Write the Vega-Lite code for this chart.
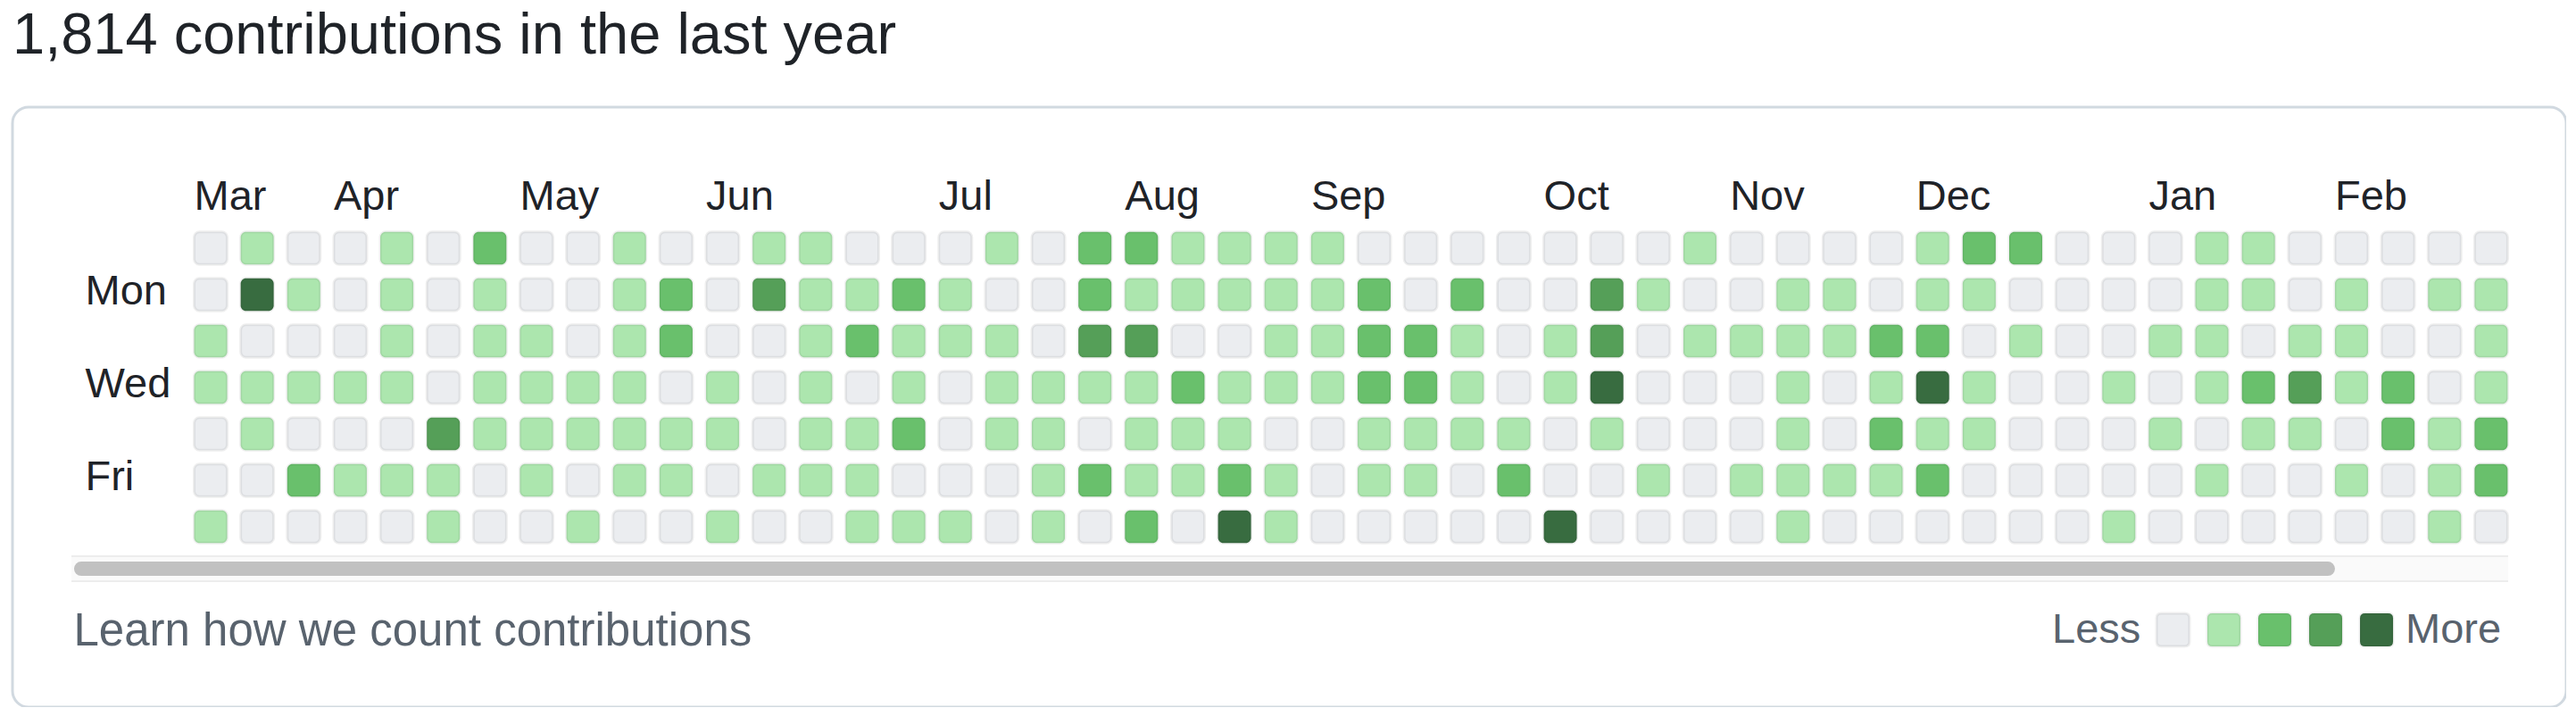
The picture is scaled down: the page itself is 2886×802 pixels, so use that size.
{
  "$schema": "https://vega.github.io/schema/vega-lite/v6.json",
  "width": 2861,
  "height": 672,
  "autosize": {"type": "none"},
  "padding": {"left": 14, "top": 120, "right": 0, "bottom": 0},
  "background": "white",
  "title": {
    "text": "1,814 contributions in the last year",
    "anchor": "start",
    "frame": "group",
    "font": "Liberation Sans",
    "fontSize": 65,
    "fontWeight": "normal",
    "color": "#1f2328",
    "baseline": "alphabetic",
    "offset": 57,
    "dy": 62
  },
  "config": {
    "font": "Liberation Sans",
    "view": {"stroke": "#d1d9e0", "strokeWidth": 3, "cornerRadius": 18}
  },
  "datasets": {
    "cells": [
      {"week":0,"day":"Sun","level":0},{"week":1,"day":"Sun","level":1},{"week":2,"day":"Sun","level":0},{"week":3,"day":"Sun","level":0},{"week":4,"day":"Sun","level":1},{"week":5,"day":"Sun","level":0},{"week":6,"day":"Sun","level":2},{"week":7,"day":"Sun","level":0},{"week":8,"day":"Sun","level":0},{"week":9,"day":"Sun","level":1},{"week":10,"day":"Sun","level":0},{"week":11,"day":"Sun","level":0},{"week":12,"day":"Sun","level":1},{"week":13,"day":"Sun","level":1},{"week":14,"day":"Sun","level":0},{"week":15,"day":"Sun","level":0},{"week":16,"day":"Sun","level":0},{"week":17,"day":"Sun","level":1},{"week":18,"day":"Sun","level":0},{"week":19,"day":"Sun","level":2},{"week":20,"day":"Sun","level":2},{"week":21,"day":"Sun","level":1},{"week":22,"day":"Sun","level":1},{"week":23,"day":"Sun","level":1},{"week":24,"day":"Sun","level":1},{"week":25,"day":"Sun","level":0},{"week":26,"day":"Sun","level":0},{"week":27,"day":"Sun","level":0},{"week":28,"day":"Sun","level":0},{"week":29,"day":"Sun","level":0},{"week":30,"day":"Sun","level":0},{"week":31,"day":"Sun","level":0},{"week":32,"day":"Sun","level":1},{"week":33,"day":"Sun","level":0},{"week":34,"day":"Sun","level":0},{"week":35,"day":"Sun","level":0},{"week":36,"day":"Sun","level":0},{"week":37,"day":"Sun","level":1},{"week":38,"day":"Sun","level":2},{"week":39,"day":"Sun","level":2},{"week":40,"day":"Sun","level":0},{"week":41,"day":"Sun","level":0},{"week":42,"day":"Sun","level":0},{"week":43,"day":"Sun","level":1},{"week":44,"day":"Sun","level":1},{"week":45,"day":"Sun","level":0},{"week":46,"day":"Sun","level":0},{"week":47,"day":"Sun","level":0},{"week":48,"day":"Sun","level":0},{"week":49,"day":"Sun","level":0},
      {"week":0,"day":"Mon","level":0},{"week":1,"day":"Mon","level":4},{"week":2,"day":"Mon","level":1},{"week":3,"day":"Mon","level":0},{"week":4,"day":"Mon","level":1},{"week":5,"day":"Mon","level":0},{"week":6,"day":"Mon","level":1},{"week":7,"day":"Mon","level":0},{"week":8,"day":"Mon","level":0},{"week":9,"day":"Mon","level":1},{"week":10,"day":"Mon","level":2},{"week":11,"day":"Mon","level":0},{"week":12,"day":"Mon","level":3},{"week":13,"day":"Mon","level":1},{"week":14,"day":"Mon","level":1},{"week":15,"day":"Mon","level":2},{"week":16,"day":"Mon","level":1},{"week":17,"day":"Mon","level":0},{"week":18,"day":"Mon","level":0},{"week":19,"day":"Mon","level":2},{"week":20,"day":"Mon","level":1},{"week":21,"day":"Mon","level":1},{"week":22,"day":"Mon","level":1},{"week":23,"day":"Mon","level":1},{"week":24,"day":"Mon","level":1},{"week":25,"day":"Mon","level":2},{"week":26,"day":"Mon","level":0},{"week":27,"day":"Mon","level":2},{"week":28,"day":"Mon","level":0},{"week":29,"day":"Mon","level":0},{"week":30,"day":"Mon","level":3},{"week":31,"day":"Mon","level":1},{"week":32,"day":"Mon","level":0},{"week":33,"day":"Mon","level":0},{"week":34,"day":"Mon","level":1},{"week":35,"day":"Mon","level":1},{"week":36,"day":"Mon","level":0},{"week":37,"day":"Mon","level":1},{"week":38,"day":"Mon","level":1},{"week":39,"day":"Mon","level":0},{"week":40,"day":"Mon","level":0},{"week":41,"day":"Mon","level":0},{"week":42,"day":"Mon","level":0},{"week":43,"day":"Mon","level":1},{"week":44,"day":"Mon","level":1},{"week":45,"day":"Mon","level":0},{"week":46,"day":"Mon","level":1},{"week":47,"day":"Mon","level":0},{"week":48,"day":"Mon","level":1},{"week":49,"day":"Mon","level":1},
      {"week":0,"day":"Tue","level":1},{"week":1,"day":"Tue","level":0},{"week":2,"day":"Tue","level":0},{"week":3,"day":"Tue","level":0},{"week":4,"day":"Tue","level":1},{"week":5,"day":"Tue","level":0},{"week":6,"day":"Tue","level":1},{"week":7,"day":"Tue","level":1},{"week":8,"day":"Tue","level":0},{"week":9,"day":"Tue","level":1},{"week":10,"day":"Tue","level":2},{"week":11,"day":"Tue","level":0},{"week":12,"day":"Tue","level":0},{"week":13,"day":"Tue","level":1},{"week":14,"day":"Tue","level":2},{"week":15,"day":"Tue","level":1},{"week":16,"day":"Tue","level":1},{"week":17,"day":"Tue","level":1},{"week":18,"day":"Tue","level":0},{"week":19,"day":"Tue","level":3},{"week":20,"day":"Tue","level":3},{"week":21,"day":"Tue","level":0},{"week":22,"day":"Tue","level":0},{"week":23,"day":"Tue","level":1},{"week":24,"day":"Tue","level":1},{"week":25,"day":"Tue","level":2},{"week":26,"day":"Tue","level":2},{"week":27,"day":"Tue","level":1},{"week":28,"day":"Tue","level":0},{"week":29,"day":"Tue","level":1},{"week":30,"day":"Tue","level":3},{"week":31,"day":"Tue","level":0},{"week":32,"day":"Tue","level":1},{"week":33,"day":"Tue","level":1},{"week":34,"day":"Tue","level":1},{"week":35,"day":"Tue","level":1},{"week":36,"day":"Tue","level":2},{"week":37,"day":"Tue","level":2},{"week":38,"day":"Tue","level":0},{"week":39,"day":"Tue","level":1},{"week":40,"day":"Tue","level":0},{"week":41,"day":"Tue","level":0},{"week":42,"day":"Tue","level":1},{"week":43,"day":"Tue","level":1},{"week":44,"day":"Tue","level":0},{"week":45,"day":"Tue","level":1},{"week":46,"day":"Tue","level":1},{"week":47,"day":"Tue","level":0},{"week":48,"day":"Tue","level":0},{"week":49,"day":"Tue","level":1},
      {"week":0,"day":"Wed","level":1},{"week":1,"day":"Wed","level":1},{"week":2,"day":"Wed","level":1},{"week":3,"day":"Wed","level":1},{"week":4,"day":"Wed","level":1},{"week":5,"day":"Wed","level":0},{"week":6,"day":"Wed","level":1},{"week":7,"day":"Wed","level":1},{"week":8,"day":"Wed","level":1},{"week":9,"day":"Wed","level":1},{"week":10,"day":"Wed","level":0},{"week":11,"day":"Wed","level":1},{"week":12,"day":"Wed","level":0},{"week":13,"day":"Wed","level":1},{"week":14,"day":"Wed","level":0},{"week":15,"day":"Wed","level":1},{"week":16,"day":"Wed","level":0},{"week":17,"day":"Wed","level":1},{"week":18,"day":"Wed","level":1},{"week":19,"day":"Wed","level":1},{"week":20,"day":"Wed","level":1},{"week":21,"day":"Wed","level":2},{"week":22,"day":"Wed","level":1},{"week":23,"day":"Wed","level":1},{"week":24,"day":"Wed","level":1},{"week":25,"day":"Wed","level":2},{"week":26,"day":"Wed","level":2},{"week":27,"day":"Wed","level":1},{"week":28,"day":"Wed","level":0},{"week":29,"day":"Wed","level":1},{"week":30,"day":"Wed","level":4},{"week":31,"day":"Wed","level":0},{"week":32,"day":"Wed","level":0},{"week":33,"day":"Wed","level":0},{"week":34,"day":"Wed","level":1},{"week":35,"day":"Wed","level":0},{"week":36,"day":"Wed","level":1},{"week":37,"day":"Wed","level":4},{"week":38,"day":"Wed","level":1},{"week":39,"day":"Wed","level":0},{"week":40,"day":"Wed","level":0},{"week":41,"day":"Wed","level":1},{"week":42,"day":"Wed","level":0},{"week":43,"day":"Wed","level":1},{"week":44,"day":"Wed","level":2},{"week":45,"day":"Wed","level":3},{"week":46,"day":"Wed","level":1},{"week":47,"day":"Wed","level":2},{"week":48,"day":"Wed","level":0},{"week":49,"day":"Wed","level":1},
      {"week":0,"day":"Thu","level":0},{"week":1,"day":"Thu","level":1},{"week":2,"day":"Thu","level":0},{"week":3,"day":"Thu","level":0},{"week":4,"day":"Thu","level":0},{"week":5,"day":"Thu","level":3},{"week":6,"day":"Thu","level":1},{"week":7,"day":"Thu","level":1},{"week":8,"day":"Thu","level":1},{"week":9,"day":"Thu","level":1},{"week":10,"day":"Thu","level":1},{"week":11,"day":"Thu","level":1},{"week":12,"day":"Thu","level":0},{"week":13,"day":"Thu","level":1},{"week":14,"day":"Thu","level":1},{"week":15,"day":"Thu","level":2},{"week":16,"day":"Thu","level":0},{"week":17,"day":"Thu","level":1},{"week":18,"day":"Thu","level":1},{"week":19,"day":"Thu","level":0},{"week":20,"day":"Thu","level":1},{"week":21,"day":"Thu","level":1},{"week":22,"day":"Thu","level":1},{"week":23,"day":"Thu","level":0},{"week":24,"day":"Thu","level":0},{"week":25,"day":"Thu","level":1},{"week":26,"day":"Thu","level":1},{"week":27,"day":"Thu","level":1},{"week":28,"day":"Thu","level":1},{"week":29,"day":"Thu","level":0},{"week":30,"day":"Thu","level":1},{"week":31,"day":"Thu","level":0},{"week":32,"day":"Thu","level":0},{"week":33,"day":"Thu","level":0},{"week":34,"day":"Thu","level":1},{"week":35,"day":"Thu","level":0},{"week":36,"day":"Thu","level":2},{"week":37,"day":"Thu","level":1},{"week":38,"day":"Thu","level":1},{"week":39,"day":"Thu","level":0},{"week":40,"day":"Thu","level":0},{"week":41,"day":"Thu","level":0},{"week":42,"day":"Thu","level":1},{"week":43,"day":"Thu","level":0},{"week":44,"day":"Thu","level":1},{"week":45,"day":"Thu","level":1},{"week":46,"day":"Thu","level":0},{"week":47,"day":"Thu","level":2},{"week":48,"day":"Thu","level":1},{"week":49,"day":"Thu","level":2},
      {"week":0,"day":"Fri","level":0},{"week":1,"day":"Fri","level":0},{"week":2,"day":"Fri","level":2},{"week":3,"day":"Fri","level":1},{"week":4,"day":"Fri","level":1},{"week":5,"day":"Fri","level":1},{"week":6,"day":"Fri","level":0},{"week":7,"day":"Fri","level":1},{"week":8,"day":"Fri","level":0},{"week":9,"day":"Fri","level":1},{"week":10,"day":"Fri","level":1},{"week":11,"day":"Fri","level":0},{"week":12,"day":"Fri","level":1},{"week":13,"day":"Fri","level":1},{"week":14,"day":"Fri","level":1},{"week":15,"day":"Fri","level":0},{"week":16,"day":"Fri","level":0},{"week":17,"day":"Fri","level":0},{"week":18,"day":"Fri","level":1},{"week":19,"day":"Fri","level":2},{"week":20,"day":"Fri","level":1},{"week":21,"day":"Fri","level":1},{"week":22,"day":"Fri","level":2},{"week":23,"day":"Fri","level":1},{"week":24,"day":"Fri","level":0},{"week":25,"day":"Fri","level":1},{"week":26,"day":"Fri","level":1},{"week":27,"day":"Fri","level":0},{"week":28,"day":"Fri","level":2},{"week":29,"day":"Fri","level":0},{"week":30,"day":"Fri","level":0},{"week":31,"day":"Fri","level":1},{"week":32,"day":"Fri","level":0},{"week":33,"day":"Fri","level":1},{"week":34,"day":"Fri","level":1},{"week":35,"day":"Fri","level":1},{"week":36,"day":"Fri","level":1},{"week":37,"day":"Fri","level":2},{"week":38,"day":"Fri","level":0},{"week":39,"day":"Fri","level":0},{"week":40,"day":"Fri","level":0},{"week":41,"day":"Fri","level":0},{"week":42,"day":"Fri","level":0},{"week":43,"day":"Fri","level":1},{"week":44,"day":"Fri","level":0},{"week":45,"day":"Fri","level":0},{"week":46,"day":"Fri","level":1},{"week":47,"day":"Fri","level":0},{"week":48,"day":"Fri","level":1},{"week":49,"day":"Fri","level":2},
      {"week":0,"day":"Sat","level":1},{"week":1,"day":"Sat","level":0},{"week":2,"day":"Sat","level":0},{"week":3,"day":"Sat","level":0},{"week":4,"day":"Sat","level":0},{"week":5,"day":"Sat","level":1},{"week":6,"day":"Sat","level":0},{"week":7,"day":"Sat","level":0},{"week":8,"day":"Sat","level":1},{"week":9,"day":"Sat","level":0},{"week":10,"day":"Sat","level":0},{"week":11,"day":"Sat","level":1},{"week":12,"day":"Sat","level":0},{"week":13,"day":"Sat","level":0},{"week":14,"day":"Sat","level":1},{"week":15,"day":"Sat","level":1},{"week":16,"day":"Sat","level":1},{"week":17,"day":"Sat","level":0},{"week":18,"day":"Sat","level":1},{"week":19,"day":"Sat","level":0},{"week":20,"day":"Sat","level":2},{"week":21,"day":"Sat","level":0},{"week":22,"day":"Sat","level":4},{"week":23,"day":"Sat","level":1},{"week":24,"day":"Sat","level":0},{"week":25,"day":"Sat","level":0},{"week":26,"day":"Sat","level":0},{"week":27,"day":"Sat","level":0},{"week":28,"day":"Sat","level":0},{"week":29,"day":"Sat","level":4},{"week":30,"day":"Sat","level":0},{"week":31,"day":"Sat","level":0},{"week":32,"day":"Sat","level":0},{"week":33,"day":"Sat","level":0},{"week":34,"day":"Sat","level":1},{"week":35,"day":"Sat","level":0},{"week":36,"day":"Sat","level":0},{"week":37,"day":"Sat","level":0},{"week":38,"day":"Sat","level":0},{"week":39,"day":"Sat","level":0},{"week":40,"day":"Sat","level":0},{"week":41,"day":"Sat","level":1},{"week":42,"day":"Sat","level":0},{"week":43,"day":"Sat","level":0},{"week":44,"day":"Sat","level":0},{"week":45,"day":"Sat","level":0},{"week":46,"day":"Sat","level":0},{"week":47,"day":"Sat","level":0},{"week":48,"day":"Sat","level":1},{"week":49,"day":"Sat","level":0}
    ],
    "months": [
      {"week":0,"month":"Mar"},{"week":3,"month":"Apr"},{"week":7,"month":"May"},{"week":11,"month":"Jun"},{"week":16,"month":"Jul"},{"week":20,"month":"Aug"},{"week":24,"month":"Sep"},{"week":29,"month":"Oct"},{"week":33,"month":"Nov"},{"week":37,"month":"Dec"},{"week":42,"month":"Jan"},{"week":46,"month":"Feb"}
    ],
    "scroll": [
      {"part":"track","start":0,"end":1},
      {"part":"thumb","start":0.004,"end":0.926}
    ]
  },
  "layer": [
    {
      "layer": [
        {
          "data": {"name": "cells"},
          "mark": {"type": "rect", "cornerRadius": 6, "stroke": "rgba(27,31,35,0.07)", "strokeWidth": 3},
          "encoding": {
            "x": {
              "field": "week", "type": "ordinal",
              "scale": {"range": [203.5, 2795.4], "paddingInner": 0.2904, "paddingOuter": 0},
              "axis": {
                "orient": "bottom", "labels": false, "ticks": false, "domain": false, "grid": false,
                "title": "Learn how we count contributions",
                "titleX": 68, "titleY": -70, "titleAlign": "left", "titleAnchor": "start", "titleBaseline": "alphabetic",
                "titleFont": "Liberation Sans", "titleFontSize": 51, "titleFontWeight": "normal", "titleColor": "#59636e"
              }
            },
            "y": {
              "field": "day", "type": "ordinal",
              "sort": ["Sun","Mon","Tue","Wed","Thu","Fri","Sat"],
              "scale": {"domain": ["Sun","Mon","Tue","Wed","Thu","Fri","Sat"], "range": [139.8, 488.3], "paddingInner": 0.2981, "paddingOuter": 0},
              "axis": {
                "orient": "left", "offset": -81, "title": null, "ticks": false, "tickSize": 0, "domain": false, "grid": false,
                "labelAlign": "left", "labelPadding": 0, "labelBaseline": "middle", "labelOffset": -3,
                "labelExpr": "(datum.value == 'Mon' || datum.value == 'Wed' || datum.value == 'Fri') ? datum.value : ''",
                "labelFont": "Liberation Sans", "labelFontSize": 47, "labelColor": "#1f2328"
              }
            },
            "color": {
              "field": "level", "type": "ordinal",
              "scale": {"domain": [0,1,2,3,4], "range": ["#ebedf0","#ace6ae","#69c06c","#559f58","#386c40"]},
              "legend": {
                "orient": "none", "legendX": 2285, "legendY": 562, "direction": "horizontal",
                "padding": 0,
                "title": "Less", "titleOrient": "left", "titlePadding": 12,
                "titleFont": "Liberation Sans", "titleFontSize": 47, "titleFontWeight": "normal", "titleColor": "#59636e",
                "labelExpr": "datum.value == 4 ? '\u2009More' : ''",
                "labelFont": "Liberation Sans", "labelFontSize": 47, "labelColor": "#59636e",
                "labelOffset": 9, "columnPadding": 0.01,
                "symbolType": "M -0.7,-1 L 0.7,-1 Q 1,-1 1,-0.7 L 1,0.7 Q 1,1 0.7,1 L -0.7,1 Q -1,1 -1,0.7 L -1,-0.7 Q -1,-1 -0.7,-1 Z",
                "symbolSize": 1369,
                "symbolStrokeColor": "rgba(27,31,35,0.07)",
                "symbolStrokeWidth": 3,
                "encode": {"symbols": {"update": {"stroke": {"value": "rgba(27,31,35,0.07)"}, "strokeWidth": {"value": 3}}}}
              }
            }
          }
        },
        {
          "data": {"name": "months"},
          "mark": {"type": "text", "align": "left", "baseline": "alphabetic", "dy": -43, "font": "Liberation Sans", "fontSize": 47, "color": "#1f2328"},
          "encoding": {
            "x": {"field": "week", "type": "ordinal", "bandPosition": 0},
            "y": {"datum": "Sun", "type": "ordinal"},
            "text": {"field": "month"}
          }
        }
      ]
    },
    {
      "data": {"name": "scroll"},
      "layer": [
        {
          "transform": [{"filter": "datum.part == 'track'"}],
          "mark": {"type": "rule", "color": "#ededed", "strokeWidth": 30, "yOffset": 47},
          "encoding": {
            "x": {"field": "start", "type": "quantitative", "scale": {"domain": [-0.024176, 1.023809], "nice": false, "zero": false}, "axis": null},
            "x2": {"field": "end"},
            "y": {"datum": "Sat", "type": "ordinal"}
          }
        },
        {
          "transform": [{"filter": "datum.part == 'track'"}],
          "mark": {"type": "rule", "color": "#fafafa", "strokeWidth": 26, "yOffset": 47},
          "encoding": {
            "x": {"field": "start", "type": "quantitative"},
            "x2": {"field": "end"},
            "y": {"datum": "Sat", "type": "ordinal"}
          }
        },
        {
          "transform": [{"filter": "datum.part == 'thumb'"}],
          "mark": {"type": "rule", "color": "#c1c1c1", "strokeWidth": 16, "strokeCap": "round", "yOffset": 47},
          "encoding": {
            "x": {"field": "start", "type": "quantitative"},
            "x2": {"field": "end"},
            "y": {"datum": "Sat", "type": "ordinal"}
          }
        }
      ]
    }
  ],
  "resolve": {"scale": {"x": "independent"}}
}
